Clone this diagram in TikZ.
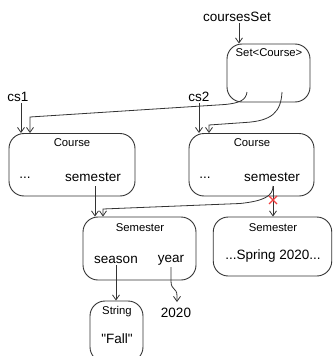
\documentclass[tikz,border=0pt]{standalone}
\usepackage{fontspec}
\setmainfont{Liberation Sans}[Ligatures=TeXOff]
\usetikzlibrary{arrows.meta}
\definecolor{boxc}{HTML}{333333}
\definecolor{linec}{HTML}{333333}
\definecolor{xred}{HTML}{F04040}
\begin{document}
\begin{tikzpicture}[x=1pt,y=-1pt,
  box/.style={draw=boxc, rounded corners=15pt, line width=0.9pt, inner sep=0pt},
  big/.style={font=\fontsize{13.5}{16}\selectfont, inner sep=1pt},
  small/.style={font=\fontsize{11.3}{13}\selectfont, inner sep=1pt},
  arr/.style={draw=linec, line width=0.8pt, -{Straight Barb[length=5pt,width=7pt]}}]
\useasboundingbox (0,0) rectangle (332,356);
\clip (0,0) rectangle (332,356);
% boxes
\node[box, minimum width=83pt, minimum height=58pt] (setbox) at (268.5,73) {};
\node[box, minimum width=126pt, minimum height=62.5pt] (courseL) at (72,164.75) {};
\node[box, minimum width=125pt, minimum height=62.5pt] (courseR) at (251.5,164.75) {};
\node[box, minimum width=113pt, minimum height=63pt] (semM) at (139.5,248.5) {};
\node[box, minimum width=118.5pt, minimum height=59pt] (semR) at (272.5,246.5) {};
\node[box, minimum width=53pt, minimum height=61pt] (strbox) at (116.5,331.5) {};
% texts
\node[big] (cset) at (237,17) {coursesSet};
\node[small] (settxt) at (269,53) {Set<Course>};
\node[big] (cs1) at (18,97) {cs1};
\node[big] (cs2) at (199,97) {cs2};
\node[small] (ctL) at (72,143) {Course};
\node[small] (ctR) at (252,143) {Course};
\node[big] (dotsL) at (25,178) {...};
\node[big] (semesterL) at (93,177) {semester};
\node[big] (dotsR) at (205,178) {...};
\node[big] (semesterR) at (272,177) {semester};
\node[small] (stM) at (140,228) {Semester};
\node[big] (season) at (116,260) {season};
\node[big] (year) at (171,260) {year};
\node[small] (stR) at (273,228) {Semester};
\node[big] (spring) at (273,256) {...Spring 2020...};
\node[small] (strtxt) at (117,312) {String};
\node[big] (fall) at (117,339) {"Fall"};
\node[big] (n2020) at (176,313) {2020};
% named points
\coordinate (s1) at (247,92);
\coordinate (s2) at (282,92);
\coordinate (c1) at (30,117);
\coordinate (c2) at (209,125);
\coordinate (m1) at (95,186);
\coordinate (r1) at (273,186);
\coordinate (c3) at (103,209);
\coordinate (y1) at (171,267);
\coordinate (y2) at (177,302);
% connectors
\draw[arr] ([xshift=2pt]cset.south) -- ([xshift=2pt]cset.south |- setbox.north);
\draw[arr] ([xshift=3pt]cs1.south) -- ([xshift=3pt]cs1.south |- courseL.north);
\draw[arr] (cs2.south) -- (cs2.south |- courseR.north);
\draw[arr] (s1) .. controls (246,100) and (240,103) .. (225,104.5) -- (c1) -- (c1 |- courseL.north);
\draw[arr] (s2) .. controls (281,112) and (272,121) .. (245,122.5) -- (c2) -- (c2 |- courseR.north);
\draw[arr] (m1) -- (m1 |- semM.north);
\draw[arr] (r1) .. controls (273,196) and (264,201) .. (240,203.5) -- (c3) -- (c3 |- semM.north);
\draw[arr] (r1) -- (r1 |- semR.north);
\draw[arr] (season.south) -- (season.south |- strbox.north);
\draw[arr] (y1) -- (171,281) .. controls (171,291) and (177,287) .. (177,296) -- (y2);
% red cross
\draw[xred, line width=1.4pt] (269,196) -- (277,204) (269,204) -- (277,196);
\end{tikzpicture}
\end{document}
